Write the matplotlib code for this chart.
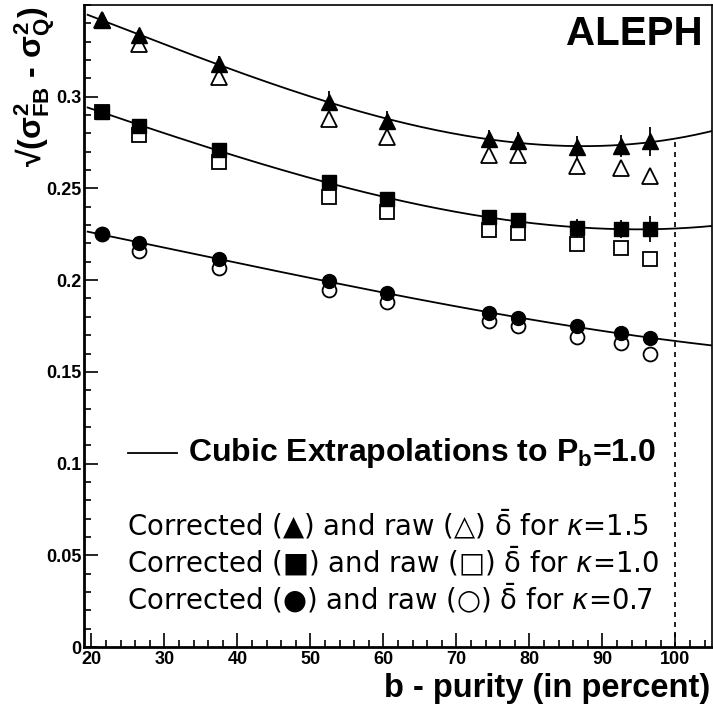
import numpy as np
import matplotlib
matplotlib.use("Agg")
import matplotlib.pyplot as plt
from matplotlib.ticker import MultipleLocator

plt.rcParams['font.family'] = ['Liberation Sans', 'DejaVu Sans']
plt.rcParams['mathtext.fontset'] = 'custom'
plt.rcParams['mathtext.rm'] = 'Liberation Sans:bold'
plt.rcParams['mathtext.it'] = 'Liberation Sans:bold'
plt.rcParams['mathtext.bf'] = 'Liberation Sans:bold'

# b-purity (percent)
purity = [21.5, 26.5, 37.5, 52.5, 60.5, 74.5, 78.5, 86.5, 92.5, 96.5]

# kappa = 1.5
tri_corr = [0.3417, 0.3335, 0.318, 0.297, 0.287, 0.277, 0.276, 0.2725, 0.273, 0.2757]
tri_corr_err = [0.002, 0.003, 0.004, 0.006, 0.005, 0.005, 0.005, 0.006, 0.006, 0.008]
tri_raw = [0.3417, 0.329, 0.3106, 0.288, 0.278, 0.268, 0.268, 0.2624, 0.261, 0.257]
tri_raw_err = [0.0, 0.0, 0.0, 0.0, 0.0, 0.0, 0.0, 0.002, 0.002, 0.004]

# kappa = 1.0
sq_corr = [0.2916, 0.2843, 0.2708, 0.2534, 0.2441, 0.2343, 0.2327, 0.2283, 0.2278, 0.2278]
sq_corr_err = [0.002, 0.002, 0.003, 0.004, 0.004, 0.004, 0.004, 0.005, 0.005, 0.007]
sq_raw = [0.2916, 0.279, 0.2643, 0.2452, 0.237, 0.2272, 0.2256, 0.2196, 0.2174, 0.2114]
sq_raw_err = [0.0, 0.0, 0.0, 0.0, 0.0, 0.0, 0.0, 0.002, 0.002, 0.003]

# kappa = 0.7
ci_corr = [0.2251, 0.2202, 0.2114, 0.1995, 0.193, 0.182, 0.1793, 0.175, 0.171, 0.1684]
ci_corr_err = [0.001, 0.001, 0.002, 0.002, 0.002, 0.002, 0.002, 0.003, 0.003, 0.004]
ci_raw = [0.2251, 0.2158, 0.2065, 0.1946, 0.188, 0.1777, 0.175, 0.169, 0.1657, 0.160]
ci_raw_err = [0.0, 0.0, 0.0, 0.0, 0.0, 0.0, 0.0, 0.0, 0.0, 0.002]

fig = plt.figure(figsize=(7.13, 7.06), dpi=100)
ax = fig.add_axes([84 / 713, 59 / 706, 628 / 713, 642 / 706])

x_fit = np.linspace(19.5, 105, 300)
series = [
    (tri_corr, tri_corr_err, tri_raw, tri_raw_err, '^', 11),
    (sq_corr, sq_corr_err, sq_raw, sq_raw_err, 's', 10),
    (ci_corr, ci_corr_err, ci_raw, ci_raw_err, 'o', 10),
]
for corr, corr_err, raw, raw_err, mk, ms in series:
    # cubic extrapolation to purity 100
    coef = np.polyfit(purity, corr, 3)
    ax.plot(x_fit, np.polyval(coef, x_fit), color='black', lw=1.3, zorder=2)
    ax.errorbar(purity, raw, yerr=raw_err, fmt=mk, ms=ms, mfc='white', mec='black',
                mew=1.3, ecolor='black', elinewidth=1.3, capsize=0, zorder=3)
    ax.errorbar(purity, corr, yerr=corr_err, fmt=mk, ms=ms, mfc='black', mec='black',
                ecolor='black', elinewidth=1.3, capsize=0, zorder=4)

tri_coef = np.polyfit(purity, tri_corr, 3)
ax.plot([100, 100], [0, np.polyval(tri_coef, 100)], color='black', lw=1.2,
        ls=(0, (3, 3)), zorder=1)

ax.set_xlim(19, 105)
ax.set_ylim(0, 0.35)
ax.xaxis.set_major_locator(MultipleLocator(10))
ax.xaxis.set_minor_locator(MultipleLocator(2))
ax.yaxis.set_minor_locator(MultipleLocator(0.01))
ax.set_yticks([0, 0.05, 0.1, 0.15, 0.2, 0.25, 0.3])
ax.set_yticklabels(['0', '0.05', '0.1', '0.15', '0.2', '0.25', '0.3'])
ax.tick_params(which='both', direction='in', top=False, right=False,
               labelsize=13, width=1.2)
ax.tick_params(which='major', length=10)
ax.tick_params(which='minor', length=5)
ax.tick_params(axis='y', pad=2)
ax.tick_params(axis='x', pad=3)
for lab in ax.get_xticklabels() + ax.get_yticklabels():
    lab.set_fontweight('bold')
for s in ax.spines.values():
    s.set_linewidth(1.2)
ax.spines['left'].set_linewidth(2)
ax.spines['bottom'].set_linewidth(2)

ax.text(0.985, 0.985, 'ALEPH', transform=ax.transAxes, ha='right', va='top',
        fontsize=29, fontweight='bold')

fig.text(710 / 713, 9 / 706, 'b - purity (in percent)', ha='right', va='baseline',
         fontsize=23.5, fontweight='bold')
fig.text(35 / 713, 700 / 706, '\u221A(' + r'$\sigma^{2}_{FB}$ - $\sigma^{2}_{Q}$)',
         rotation=90, ha='center', va='top', fontsize=23, fontweight='bold')

# legend
ax.plot([25, 31.8], [0.106, 0.106], color='black', lw=1.3)
ax.text(33.2, 0.106, r'Cubic Extrapolations to P$_{b}$=1.0', ha='left', va='center',
        fontsize=23, fontweight='bold')

leg_lines = [
    ('\u25B2', '\u25B3', '1.5', 0.061),
    ('\u25A0', '\u25A1', '1.0', 0.0409),
    ('\u25CF', '\u25CB', '0.7', 0.0207),
]
for full, empty, kap, yy in leg_lines:
    ax.text(24.9, yy, 'Corrected (' + full + ') and raw (' + empty + ') '
            + r'$\bar{\mathrm{\delta}}$' + ' for ' + r'$\kappa$' + '=' + kap,
            ha='left', va='baseline', fontsize=19.8,
            family='DejaVu Sans', math_fontfamily='dejavusans')

fig.savefig('out.png', dpi=100)
